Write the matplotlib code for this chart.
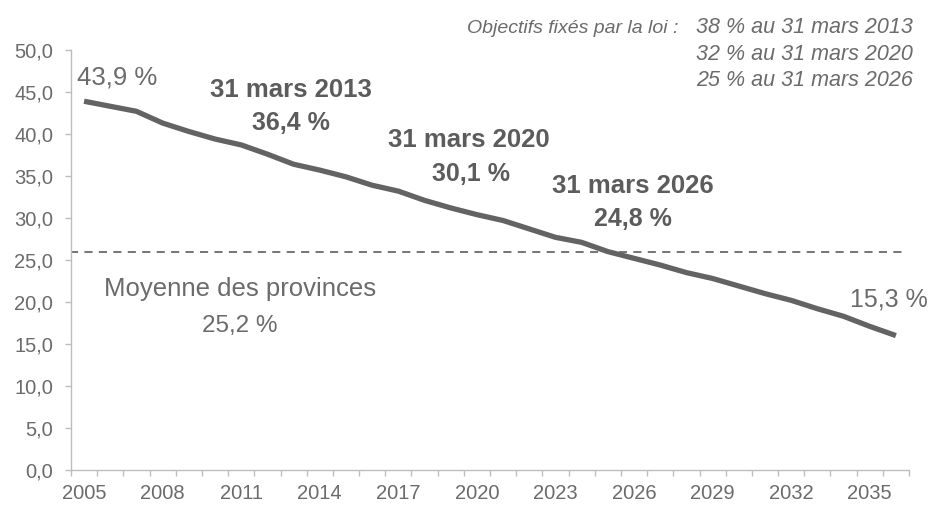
import matplotlib
matplotlib.use("Agg")
import matplotlib.pyplot as plt
from matplotlib.ticker import FixedLocator, FuncFormatter

plt.rcParams['font.family'] = ['Liberation Sans', 'DejaVu Sans']

years = list(range(2005, 2037))
values = [43.9, 43.3, 42.7, 41.3, 40.3, 39.4, 38.7, 37.6, 36.4, 35.7, 34.9,
          33.9, 33.2, 32.1, 31.2, 30.4, 29.7, 28.7, 27.7, 27.1, 26.0, 25.2,
          24.4, 23.5, 22.8, 21.9, 21.0, 20.2, 19.2, 18.3, 17.1, 16.0]
provinces_avg = 25.9
year_labels = list(range(2005, 2036, 3))
y_ticks = [0, 5, 10, 15, 20, 25, 30, 35, 40, 45, 50]

milestone_titles = ["31 mars 2013", "31 mars 2020", "31 mars 2026"]
milestone_values = ["36,4 %", "30,1 %", "24,8 %"]
objectives_title = "Objectifs fixés par la loi :"
objectives = ["38 % au 31 mars 2013", "32 % au 31 mars 2020", "25 % au 31 mars 2026"]

TXT = "#6b6b6b"
BOLD = "#5c5c5c"
LINE = "#636363"
AXC = "#bdbdbd"

W, H = 933, 508
fig = plt.figure(figsize=(9.33, 5.08), dpi=100)
ax = fig.add_axes([71/W, 1-470/H, 838/W, 420/H])


def ftext(x, y, s, **kw):
    """Place text at pixel coordinates (y measured from top)."""
    return fig.text(x/W, 1-y/H, s, **kw)


ax.plot(years, values, color=LINE, lw=3.8, solid_capstyle='butt', zorder=3)
ax.plot([years[0]-0.55, years[-1]+0.35], [provinces_avg, provinces_avg],
        color="#6a6a6a", lw=1.3, ls=(0, (4.5, 3.5)), zorder=2)

ax.set_xlim(years[0]-0.5, years[-1]+0.5)
ax.set_ylim(0, 50)

for s in ['top', 'right']:
    ax.spines[s].set_visible(False)
for s in ['left', 'bottom']:
    ax.spines[s].set_color(AXC)
    ax.spines[s].set_linewidth(1.0)

ax.yaxis.set_major_locator(FixedLocator(y_ticks))
ax.yaxis.set_major_formatter(FuncFormatter(lambda v, p: f"{v:.1f}".replace('.', ',')))
ax.tick_params(axis='y', length=4.3, width=1.0, color=AXC, pad=8.5,
               labelsize=14.5, labelcolor=TXT)

ax.xaxis.set_major_locator(FixedLocator(year_labels))
ax.xaxis.set_major_formatter(FuncFormatter(lambda v, p: f"{int(round(v))}"))
ax.xaxis.set_minor_locator(FixedLocator([y - 0.5 for y in years] + [years[-1] + 0.5]))
ax.tick_params(axis='x', which='major', length=0, pad=10, labelsize=14.5, labelcolor=TXT)
ax.tick_params(axis='x', which='minor', length=4.3, width=1.0, color=AXC)

# end labels
ftext(117, 85, "43,9 %", ha='center', va='baseline', fontsize=18.5, color=TXT)
ftext(889, 307, "15,3 %", ha='center', va='baseline', fontsize=18, color=TXT)

# milestones
title_pos = [(291, 97), (469, 147), (633, 193)]
value_pos = [(291, 130), (471, 181), (633, 226)]
for t, (x, y) in zip(milestone_titles, title_pos):
    ftext(x, y, t, ha='center', va='baseline', fontsize=18.5, fontweight='bold', color=BOLD)
for t, (x, y) in zip(milestone_values, value_pos):
    ftext(x, y, t, ha='center', va='baseline', fontsize=18, fontweight='bold', color=BOLD)

# provinces average
ftext(240, 296, "Moyenne des provinces", ha='center', va='baseline', fontsize=18.5, color=TXT)
ftext(240, 332, "25,2 %", ha='center', va='baseline', fontsize=17.5, color=TXT)

# objectives
ftext(678, 33, objectives_title, ha='right', va='baseline',
      fontsize=14, style='italic', color=TXT)
for i, o in enumerate(objectives):
    ftext(913, 33 + 26.5*i, o, ha='right', va='baseline',
          fontsize=15.5, style='italic', color=TXT)

fig.savefig("out.png", dpi=100)
